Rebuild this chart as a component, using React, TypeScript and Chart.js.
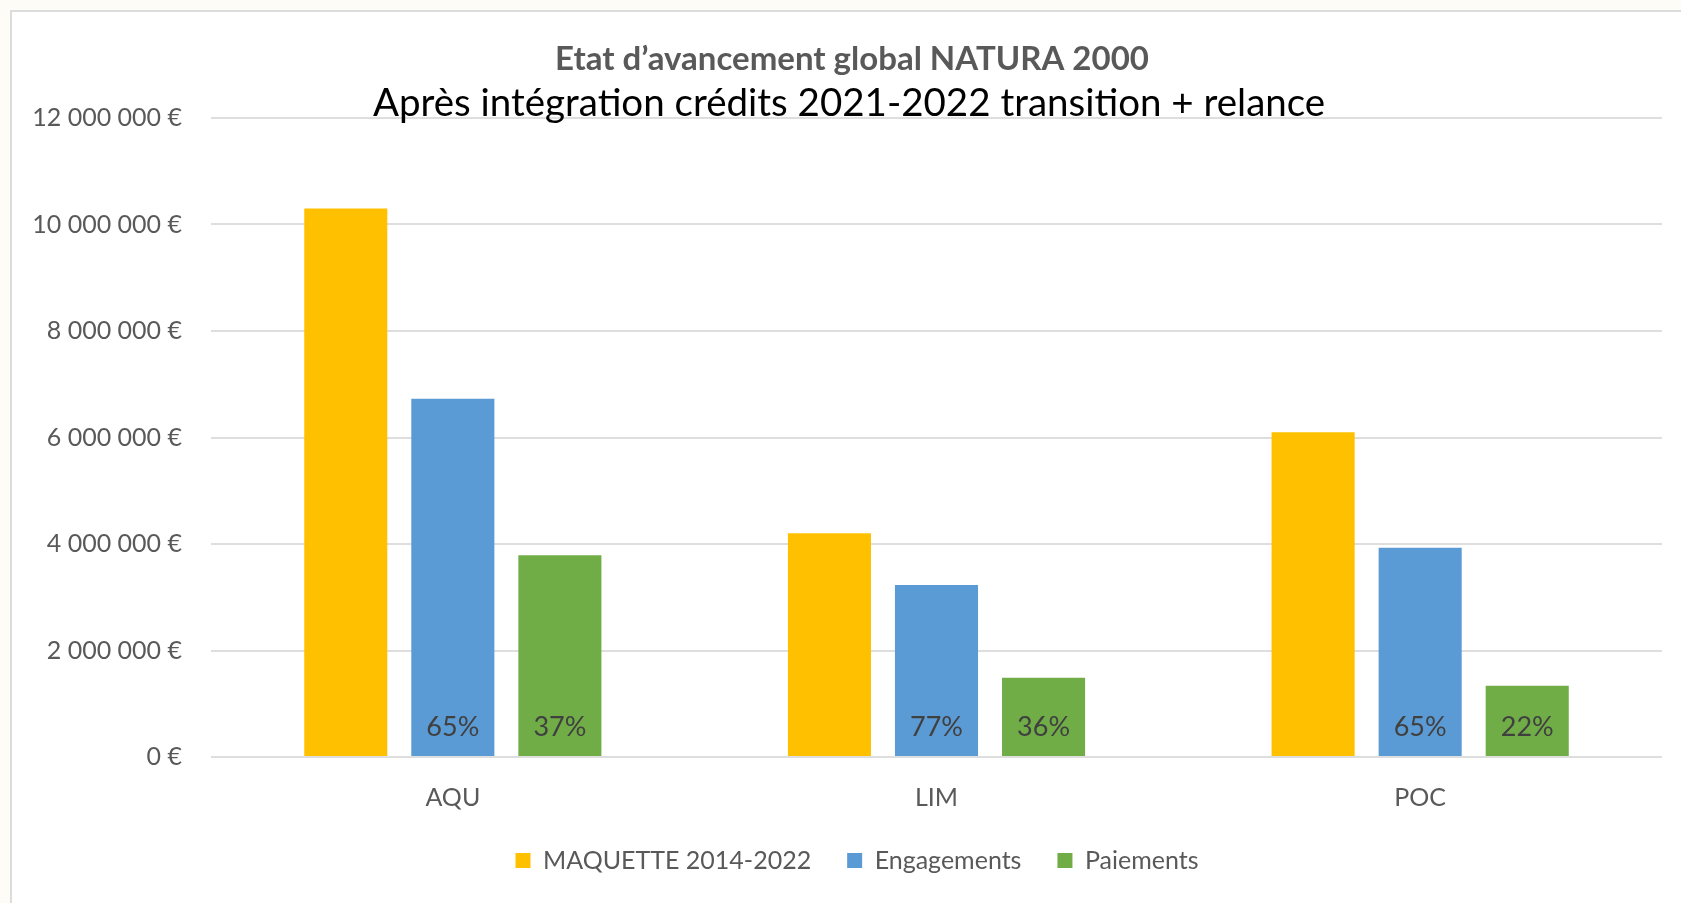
import React, { useEffect, useRef } from 'react';
import { Chart, registerables } from 'chart.js';

Chart.register(...registerables);

const categories = ['AQU', 'LIM', 'POC'];
const seriesNames = ['MAQUETTE 2014-2022', 'Engagements', 'Paiements'];
const maquette = [10300000, 4200000, 6100000];
const engagements = [6730000, 3230000, 3930000];
const paiements = [3790000, 1490000, 1340000];
const engagementLabels = ['65%', '77%', '65%'];
const paiementLabels = ['37%', '36%', '22%'];
const yMin = 0;
const yMax = 12000000;
const yStep = 2000000;
const titleLine1 = 'Etat d\u2019avancement global NATURA 2000';
const titleLine2 = 'Apr\u00e8s int\u00e9gration cr\u00e9dits 2021-2022 transition + relance';

const FONT = 'Lato, "Open Sans", sans-serif';
const GRAY = '#595959';

const fmtEuro = (v: number) =>
  String(Math.round(v)).replace(/\B(?=(\d{3})+(?!\d))/g, ' ') + ' \u20ac';

export default function App() {
  const ref = useRef<HTMLCanvasElement>(null);

  useEffect(() => {
    document.body.style.margin = '0';
    const canvas = ref.current!;

    const titlePlugin = {
      id: 'titles',
      afterDraw(chart: any) {
        const c = chart.ctx;
        c.save();
        c.textAlign = 'center';
        c.textBaseline = 'middle';
        c.fillStyle = GRAY;
        c.font = `bold 33px ${FONT}`;
        c.fillText(titleLine1, 840, 47);
        c.fillStyle = '#000000';
        c.font = `38.5px ${FONT}`;
        c.fillText(titleLine2, 837, 92);
        c.restore();
      },
    };

    const pctPlugin = {
      id: 'pctLabels',
      afterDatasetsDraw(chart: any) {
        const c = chart.ctx;
        c.save();
        c.textAlign = 'center';
        c.textBaseline = 'middle';
        c.fillStyle = '#404040';
        c.font = `27px ${FONT}`;
        const sets: [number, string[]][] = [
          [1, engagementLabels],
          [2, paiementLabels],
        ];
        sets.forEach(([di, labels]) => {
          const meta = chart.getDatasetMeta(di);
          meta.data.forEach((bar: any, i: number) => {
            c.fillText(labels[i], bar.x, bar.base - 29);
          });
        });
        c.restore();
      },
    };

    const legendShift = {
      id: 'legendShift',
      afterLayout(chart: any) {
        if (chart.legend) {
          chart.legend.left += 20;
          chart.legend.right += 20;
        }
      },
    };

    const chart = new Chart(canvas, {
      type: 'bar',
      data: {
        labels: categories,
        datasets: [
          { label: seriesNames[0], data: maquette, backgroundColor: '#FFC000' },
          { label: seriesNames[1], data: engagements, backgroundColor: '#5B9BD5' },
          { label: seriesNames[2], data: paiements, backgroundColor: '#70AD47' },
        ],
      },
      options: {
        responsive: false,
        animation: false,
        layout: { padding: { top: 106, right: 19, bottom: 20, left: 0 } },
        datasets: {
          bar: { categoryPercentage: 0.664, barPercentage: 0.776, borderWidth: 0 },
        },
        scales: {
          x: {
            grid: { display: false },
            border: { display: false },
            ticks: { color: GRAY, font: { family: FONT, size: 25 }, padding: 18 },
            afterFit(scale: any) {
              scale.height = 55;
            },
          },
          y: {
            min: yMin,
            max: yMax,
            ticks: {
              stepSize: yStep,
              color: GRAY,
              font: { family: FONT, size: 25 },
              padding: 29,
              callback: (v: any) => fmtEuro(Number(v)),
            },
            grid: { color: '#DEDEDE', lineWidth: 2, drawTicks: false },
            border: { display: false },
            afterFit(scale: any) {
              scale.width = 199;
            },
          },
        },
        plugins: {
          title: { display: false },
          tooltip: { enabled: false },
          legend: {
            position: 'bottom',
            labels: {
              color: GRAY,
              font: { family: FONT, size: 25 },
              boxWidth: 15,
              boxHeight: 15,
              padding: 36,
            },
          },
        },
      },
      plugins: [titlePlugin, pctPlugin, legendShift],
    } as any);

    return () => chart.destroy();
  }, []);

  return (
    <div style={{ position: 'fixed', inset: 0, background: '#FEFCF6', overflow: 'hidden' }}>
      <div
        style={{
          position: 'absolute',
          left: 10,
          top: 10,
          width: 1671,
          height: 893,
          background: '#FFFFFF',
          borderTop: '2px solid #DCDCDC',
          borderLeft: '2px solid #DCDCDC',
          boxSizing: 'border-box',
        }}
      >
        <canvas ref={ref} width={1669} height={891} style={{ display: 'block', width: 1669, height: 891 }} />
      </div>
    </div>
  );
}
